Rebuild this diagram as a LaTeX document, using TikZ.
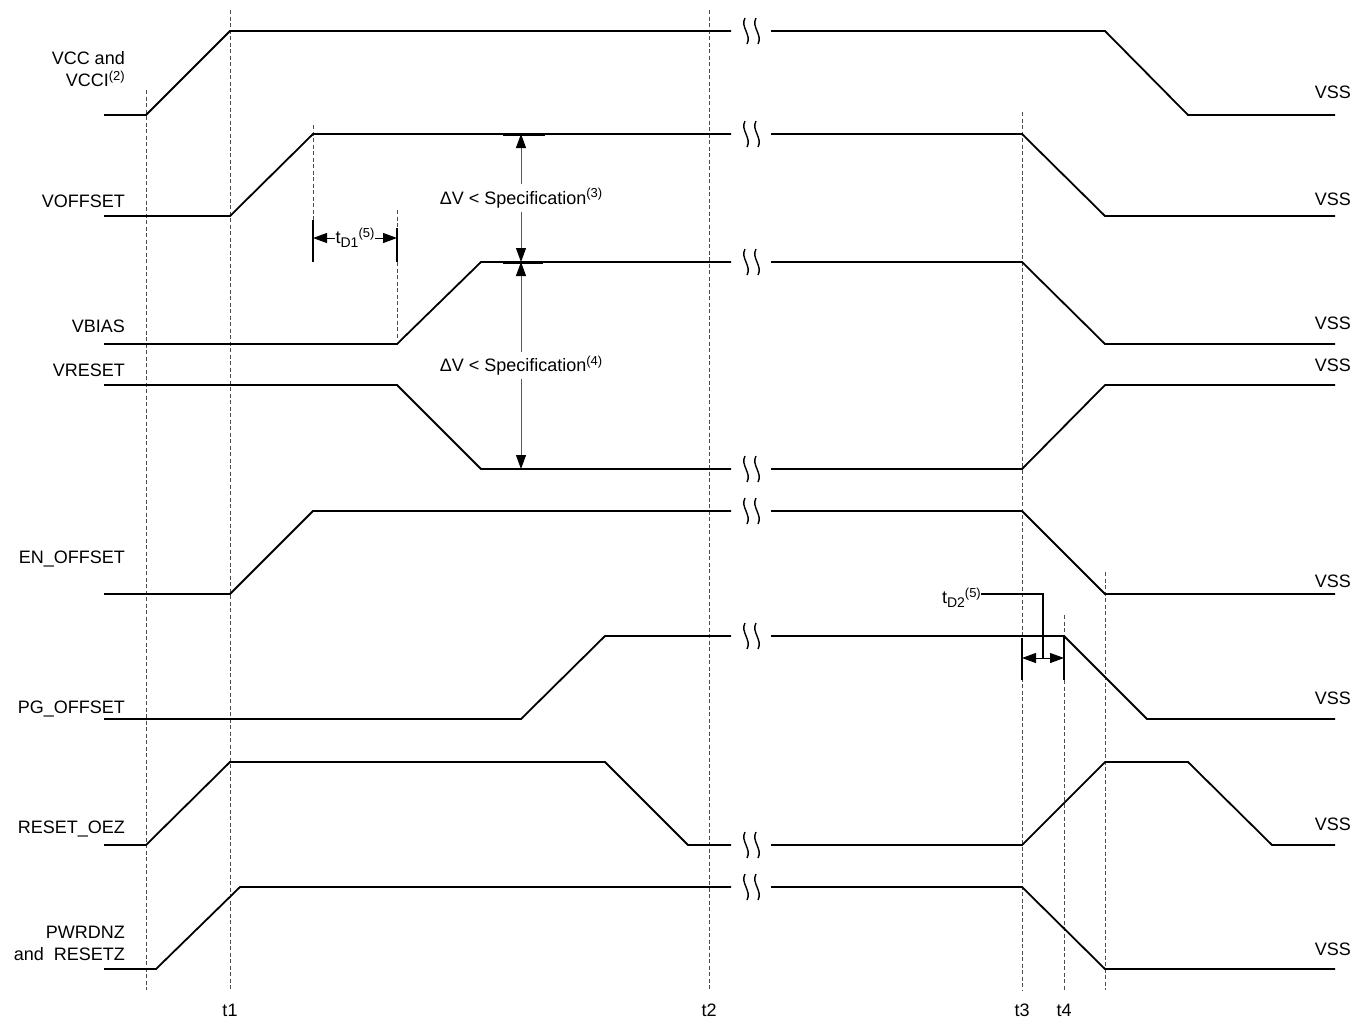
\documentclass[tikz,border=0pt]{standalone}
\usepackage{fontspec}
\setmainfont{Liberation Sans}
\usetikzlibrary{arrows.meta}
\newcommand\supx[1]{\raisebox{6.5pt}{\fontsize{13}{13}\selectfont #1}}
\newcommand\subx[1]{\raisebox{-4pt}{\fontsize{14}{14}\selectfont #1}}
\newcommand\brkmark[1]{%
  \foreach \bx in {746,757}{%
    \draw[brkline] (\bx-1,#1-13) .. controls (\bx-6,#1-4) and (\bx+6,#1+4) .. (\bx+1,#1+13);}}
\tikzset{
  sig/.style={line width=1.8pt, line join=miter, line cap=butt},
  brkline/.style={line width=1.4pt},
  guide/.style={line width=0.9pt, black!70, dash pattern=on 4pt off 2.5pt},
  solidmark/.style={line width=1.6pt},
  dimline/.style={line width=1pt, black!65, {Triangle[width=10pt,length=14pt,black]}-{Triangle[width=10pt,length=14pt,black]}},
  tick/.style={line width=3pt},
  lab/.style={font=\fontsize{18}{20}\selectfont, inner sep=0pt, text height=13pt, text depth=0pt},
  dimlab/.style={font=\fontsize{18}{20}\selectfont, text=black, fill=white, inner xsep=1pt, inner ysep=4pt}
}
\begin{document}
\begin{tikzpicture}[x=1pt,y=-1pt]
\useasboundingbox (0,0) rectangle (1356,1018);
\fill[white] (0,0) rectangle (1356,1018);

% guide lines
\draw[guide] (146,90) -- (146,990);
\draw[guide] (230,10) -- (230,990);
\draw[guide] (313,125) -- (313,220);
\draw[guide] (397,210) -- (397,228);
\draw[guide] (397,262) -- (397,338);
\draw[guide] (709,10) -- (709,990);
\draw[guide] (1022,112) -- (1022,990);
\draw[guide] (1064,615) -- (1064,990);
\draw[guide] (1105,572) -- (1105,990);

% solid markers
\draw[solidmark] (313,220) -- (313,262);
\draw[solidmark] (397,228) -- (397,262);
\draw[solidmark] (1022,638) -- (1022,680);
\draw[solidmark] (1064,636) -- (1064,680);

% signals
\draw[sig] (104,115) -- (146,115) -- (230,31) -- (731,31);
\draw[sig] (771,31) -- (1105,31) -- (1188,115) -- (1335,115);
\brkmark{31}
\draw[sig] (104,216) -- (230,216) -- (313,134) -- (731,134);
\draw[sig] (771,134) -- (1022,134) -- (1105,216) -- (1335,216);
\brkmark{134}
\draw[sig] (104,344) -- (397,344) -- (481,262) -- (731,262);
\draw[sig] (771,262) -- (1022,262) -- (1105,344) -- (1335,344);
\brkmark{262}
\draw[sig] (104,385) -- (397,385) -- (481,469) -- (731,469);
\draw[sig] (771,469) -- (1022,469) -- (1105,385) -- (1335,385);
\brkmark{469}
\draw[sig] (104,594) -- (230,594) -- (313,511) -- (731,511);
\draw[sig] (771,511) -- (1022,511) -- (1105,594) -- (1335,594);
\brkmark{511}
\draw[sig] (104,719) -- (521,719) -- (605,636) -- (731,636);
\draw[sig] (771,636) -- (1064,636) -- (1147,719) -- (1335,719);
\brkmark{636}
\draw[sig] (104,845) -- (146,845) -- (230,762) -- (605,762) -- (688,845) -- (731,845);
\draw[sig] (771,845) -- (1022,845) -- (1105,762) -- (1188,762) -- (1272,845) -- (1335,845);
\brkmark{845}
\draw[sig] (104,969) -- (156,969) -- (240,887) -- (731,887);
\draw[sig] (771,887) -- (1022,887) -- (1105,969) -- (1335,969);
\brkmark{887}

% delta V dimensions
\coordinate (dvA) at (521,134);
\coordinate (dvB) at (521,262);
\coordinate (dvC) at (521,469);
\draw[tick] (503,134) -- (545,134);
\draw[tick] (503,262) -- (543,262);
\draw[dimline] (dvA) -- node[dimlab] (dv3) {ΔV < Specification\supx{(3)}} (dvB);
\draw[dimline] (dvB) -- node[dimlab] (dv4) {ΔV < Specification\supx{(4)}} (dvC);

% tD1
\coordinate (tdA) at (313,238);
\coordinate (tdB) at (397,238);
\draw[dimline, black] (tdA) -- node[dimlab, inner ysep=1pt] (td1) {t\subx{D1}\supx{(5)}} (tdB);

% tD2
\coordinate (teA) at (1022,658);
\coordinate (teB) at (1064,658);
\coordinate (teM) at (1043,658);
\coordinate (teK) at (1043,594);
\draw[dimline, black] (teA) -- (teB);
\node[lab, anchor=east] (td2) at (981,597) {t\subx{D2}\supx{(5)}};
\draw[line width=1.6pt] (teM) -- (teK) -- (td2.east |- teK);

% left labels
\node[lab, anchor=east] (l1a) at (125,58) {VCC and};
\node[lab, anchor=east] (l1b) at (125,80) {VCCI\supx{(2)}};
\node[lab, anchor=east] (l2) at (125,201) {VOFFSET};
\node[lab, anchor=east] (l3) at (125,326) {VBIAS};
\node[lab, anchor=east] (l4) at (125,370) {VRESET};
\node[lab, anchor=east] (l5) at (125,557) {EN\_OFFSET};
\node[lab, anchor=east] (l6) at (125,707) {PG\_OFFSET};
\node[lab, anchor=east] (l7) at (125,827) {RESET\_OEZ};
\node[lab, anchor=east] (l8a) at (125,932) {PWRDNZ};
\node[lab, anchor=east] (l8b) at (125,954) {and\hspace{0.55em}RESETZ};

% VSS labels
\foreach \vy/\nm in {92/v1,199/v2,323/v3,365/v4,581/v5,698/v6,824/v7,949/v8}{
  \node[lab, anchor=east] (\nm) at (1351,\vy) {VSS};}

% time labels
\node[lab, anchor=center] (t1) at (230,1010) {t1};
\node[lab, anchor=center] (t2) at (709,1010) {t2};
\node[lab, anchor=center] (t3) at (1022,1010) {t3};
\node[lab, anchor=center] (t4) at (1064,1010) {t4};
\end{tikzpicture}
\end{document}
